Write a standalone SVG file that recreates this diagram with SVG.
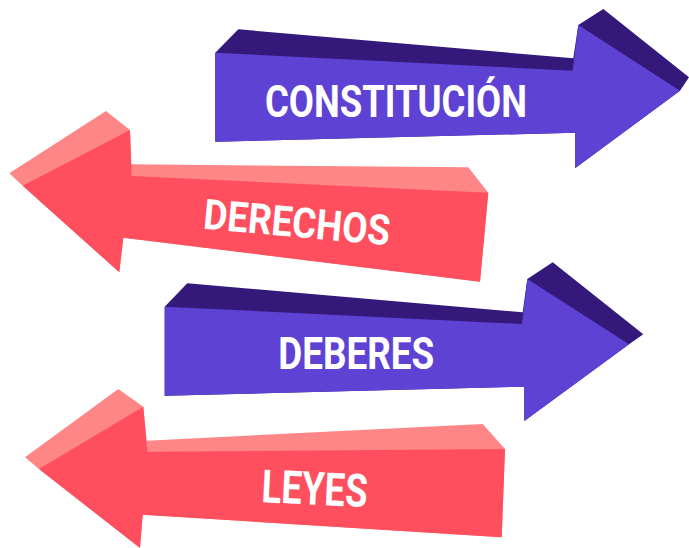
<svg xmlns="http://www.w3.org/2000/svg" width="689" height="548" viewBox="0 0 689 548">
<style>
.pf{fill:#5E42D4}
.pd{fill:#34197B}
.rf{fill:#FF4F5E}
.rl{fill:#FF8686}
.lbl{font-family:Roboto,"Liberation Sans",sans-serif;font-weight:700;fill:#FFFFFF;text-anchor:middle}
</style>
<rect width="689" height="548" fill="#FFFFFF"/>
<g id="constitucion">
<polygon class="pd" points="215.3,52.7 238.3,29.3 573.3,58.3 578.3,25 603.3,9 689,77.3 680,90.7 575,168.3 575,132.7 215.3,141.7"/>
<polygon class="pf" points="215.3,52.7 572.7,70.7 578.3,25 680,90.7 575,168.3 575,132.7 215.3,141.7"/>
<text class="lbl" x="396" y="116.7" font-size="45" textLength="262" lengthAdjust="spacingAndGlyphs">CONSTITUCIÓN</text>
</g>
<g id="derechos">
<polygon class="rl" points="9.3,173.3 106,111 130,130 131,164.3 468.3,167.3 488.3,192.7 480,281.7 123.3,237.7 119.3,272.3 22.7,185.7"/>
<polygon class="rf" points="22.7,185.7 130,130 131.7,176 488.3,192.7 480,281.7 123.3,237.7 119.3,272.3"/>
<text class="lbl" x="297" y="237" font-size="42" textLength="187" lengthAdjust="spacingAndGlyphs" transform="rotate(5.2 297 222)">DERECHOS</text>
</g>
<g id="deberes">
<polygon class="pd" points="164.7,306.7 187.3,283.3 522.7,312.3 527.3,279 552.7,262.3 643.3,334.3 629,344.3 524.3,421 524.3,386.7 164.7,395.7"/>
<polygon class="pf" points="164.7,306.7 522,324 527.3,279 629,344.3 524.3,421 524.3,386.7 164.7,395.7"/>
<text class="lbl" x="356.3" y="369.3" font-size="44.5" textLength="156" lengthAdjust="spacingAndGlyphs">DEBERES</text>
</g>
<g id="leyes">
<polygon class="rl" points="25,457.3 118.3,389 143.3,406.7 146.7,440.7 482.7,424 505,449 501.7,537.3 142.7,514.7 140,548 39,469"/>
<polygon class="rf" points="39,469 143.3,406.7 147.3,451.7 505,449 501.7,537.3 142.7,514.7 140,548"/>
<text class="lbl" x="314.7" y="504.7" font-size="46" textLength="106" lengthAdjust="spacingAndGlyphs" transform="rotate(2.7 314.7 488.3)">LEYES</text>
</g>
<g id="connectors"/>
</svg>
